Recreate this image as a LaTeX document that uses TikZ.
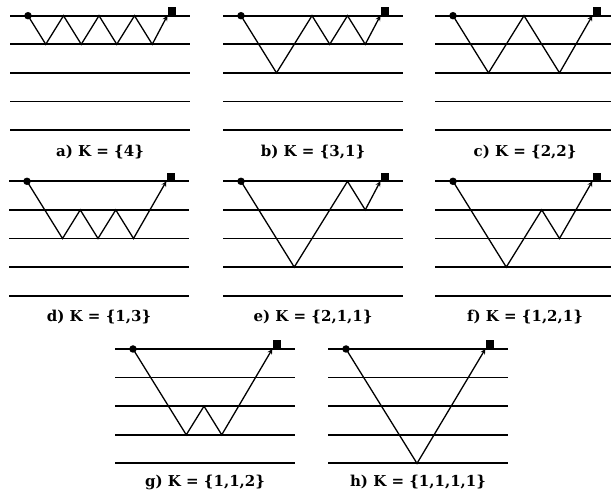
\documentclass[tikz,border=0pt]{standalone}
\usepackage{fontspec}
\setmainfont{DejaVu Serif}
\usepackage{tikz}
\usetikzlibrary{arrows, positioning}
\tikzset{
    layer/.style={line width=1.8pt, black},
    ray/.style={line width=1.3pt, ->, >=stealth},
    source/.style={circle, fill=black, inner sep=0pt, minimum size=7.5pt},
    receiver/.style={rectangle, fill=black, inner sep=0pt, minimum size=8.5pt, anchor=south},
    caption/.style={font=\fontsize{15}{17}\selectfont\bfseries},
    panel/.style={x=17.75pt, y=-28.6pt}
}

\begin{document}
\begin{tikzpicture}
    \useasboundingbox (0pt,0pt) rectangle (611pt,-494pt);

    % a) single layer, four bounces
    \begin{scope}[panel, shift={(28pt,-15.7pt)}]
        \foreach \k in {0,...,4} \draw[layer] (-1.01,\k) -- (9.15,\k);
        \node[source] (sa) at (0,0) {};
        \node[receiver] (ra) at (8.1,0) {};
        \draw[ray] (sa.center) -- (1,1) -- (2,0) -- (3,1) -- (4,0) -- (5,1) -- (6,0) -- (7,1) -- (ra.south west);
        \node[caption] (ca) at (4.06,4.75) {a) K = \{4\}};
    \end{scope}

    % b)
    \begin{scope}[panel, shift={(241pt,-15.7pt)}]
        \foreach \k in {0,...,4} \draw[layer] (-1.01,\k) -- (9.15,\k);
        \node[source] (sb) at (0,0) {};
        \node[receiver] (rb) at (8.1,0) {};
        \draw[ray] (sb.center) -- (2,2) -- (4,0) -- (5,1) -- (6,0) -- (7,1) -- (rb.south west);
        \node[caption] (cb) at (4.06,4.75) {b) K = \{3,1\}};
    \end{scope}

    % c)
    \begin{scope}[panel, shift={(453pt,-15.7pt)}]
        \foreach \k in {0,...,4} \draw[layer] (-1.01,\k) -- (9.15,\k);
        \node[source] (sc) at (0,0) {};
        \node[receiver] (rc) at (8.1,0) {};
        \draw[ray] (sc.center) -- (2,2) -- (4,0) -- (6,2) -- (rc.south west);
        \node[caption] (cc) at (4.06,4.75) {c) K = \{2,2\}};
    \end{scope}

    % d)
    \begin{scope}[panel, shift={(27pt,-181.3pt)}]
        \foreach \k in {0,...,4} \draw[layer] (-1.01,\k) -- (9.15,\k);
        \node[source] (sd) at (0,0) {};
        \node[receiver] (rd) at (8.1,0) {};
        \draw[ray] (sd.center) -- (2,2) -- (3,1) -- (4,2) -- (5,1) -- (6,2) -- (rd.south west);
        \node[caption] (cd) at (4.06,4.75) {d) K = \{1,3\}};
    \end{scope}

    % e)
    \begin{scope}[panel, shift={(241pt,-181.3pt)}]
        \foreach \k in {0,...,4} \draw[layer] (-1.01,\k) -- (9.15,\k);
        \node[source] (se) at (0,0) {};
        \node[receiver] (re) at (8.1,0) {};
        \draw[ray] (se.center) -- (3,3) -- (6,0) -- (7,1) -- (re.south west);
        \node[caption] (ce) at (4.06,4.75) {e) K = \{2,1,1\}};
    \end{scope}

    % f)
    \begin{scope}[panel, shift={(453pt,-181.3pt)}]
        \foreach \k in {0,...,4} \draw[layer] (-1.01,\k) -- (9.15,\k);
        \node[source] (sf) at (0,0) {};
        \node[receiver] (rf) at (8.1,0) {};
        \draw[ray] (sf.center) -- (3,3) -- (5,1) -- (6,2) -- (rf.south west);
        \node[caption] (cf) at (4.06,4.75) {f) K = \{1,2,1\}};
    \end{scope}

    % g)
    \begin{scope}[panel, shift={(133pt,-349pt)}]
        \foreach \k in {0,...,4} \draw[layer] (-1.01,\k) -- (9.15,\k);
        \node[source] (sg) at (0,0) {};
        \node[receiver] (rg) at (8.1,0) {};
        \draw[ray] (sg.center) -- (3,3) -- (4,2) -- (5,3) -- (rg.south west);
        \node[caption] (cg) at (4.06,4.65) {g) K = \{1,1,2\}};
    \end{scope}

    % h)
    \begin{scope}[panel, shift={(346pt,-349pt)}]
        \foreach \k in {0,...,4} \draw[layer] (-1.01,\k) -- (9.15,\k);
        \node[source] (sh) at (0,0) {};
        \node[receiver] (rh) at (8.1,0) {};
        \draw[ray] (sh.center) -- (4,4) -- (rh.south west);
        \node[caption] (ch) at (4.06,4.65) {h) K = \{1,1,1,1\}};
    \end{scope}
\end{tikzpicture}
\end{document}
